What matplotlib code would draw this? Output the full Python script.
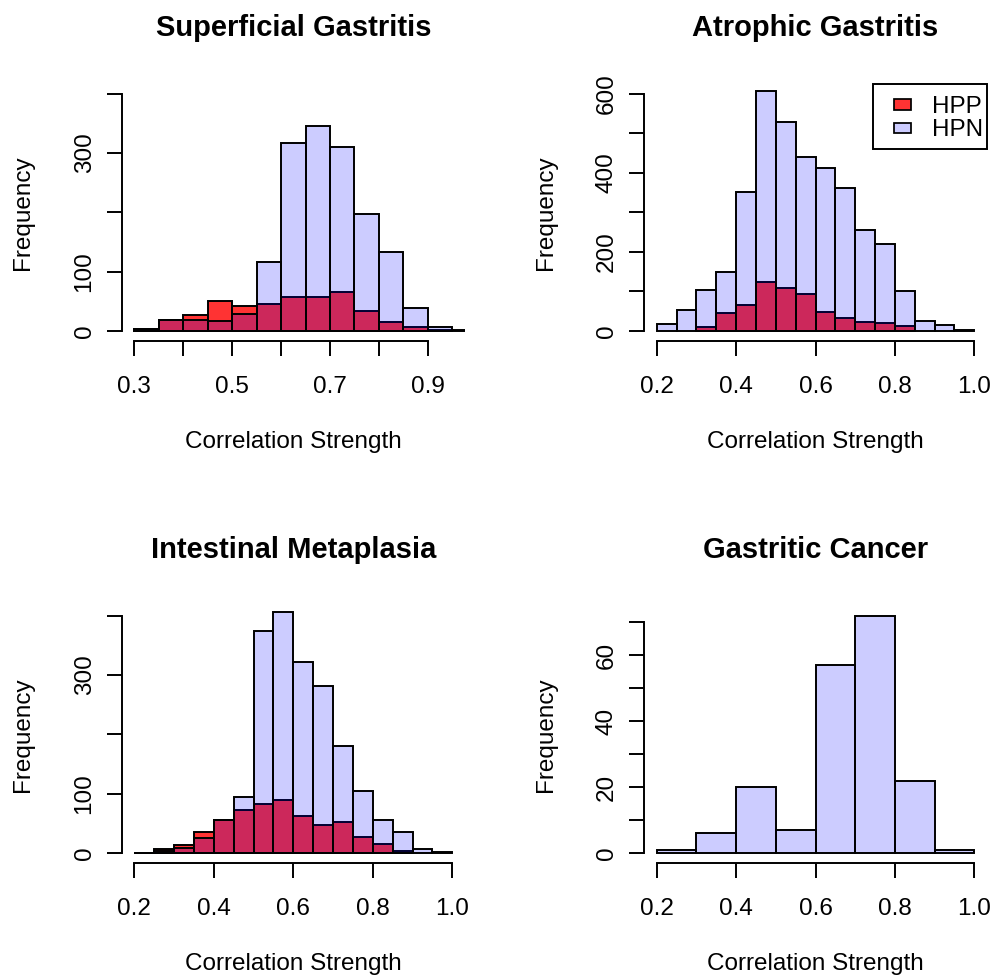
import matplotlib
matplotlib.use('Agg')
import matplotlib.pyplot as plt
from matplotlib.patches import Rectangle
import numpy as np

plt.rcParams['font.family'] = ['Liberation Sans', 'DejaVu Sans']

# ---------------- data ----------------
titles = ["Superficial Gastritis", "Atrophic Gastritis",
          "Intestinal Metaplasia", "Gastritic Cancer"]
series_names = ["HPP", "HPN"]

# Superficial Gastritis (bin width 0.05)
sg_hpp_start, sg_hpn_start = 0.30, 0.30
sg_hpp = [4, 18, 27, 50, 43, 46, 57, 58, 65, 34, 15, 7, 1]
sg_hpn = [4, 18, 19, 17, 28, 116, 317, 345, 310, 198, 133, 39, 6, 1]

# Atrophic Gastritis (bin width 0.05)
ag_hpp_start, ag_hpn_start = 0.30, 0.20
ag_hpp = [9, 46, 67, 124, 109, 94, 49, 32, 23, 21, 12]
ag_hpn = [17, 54, 104, 148, 351, 607, 528, 441, 413, 362, 255, 220, 101, 25, 16, 3]

# Intestinal Metaplasia (bin width 0.05)
im_hpp_start, im_hpn_start = 0.20, 0.20
im_hpp = [0, 7, 13, 35, 56, 72, 83, 89, 62, 48, 53, 27, 16, 3]
im_hpn = [0, 3, 8, 25, 55, 95, 375, 407, 322, 281, 180, 105, 56, 35, 6, 1]

# Gastritic Cancer (bin width 0.1), HPN only
gc_hpn_start = 0.20
gc_hpn = [1, 6, 20, 7, 57, 72, 22, 1]

bin_widths = [0.05, 0.05, 0.05, 0.1]
xlims = [(0.30, 0.95), (0.20, 1.00), (0.20, 1.00), (0.20, 1.00)]
ylims = [(0, 400), (0, 600), (0, 400), (0, 72)]
xticks = [[0.3, 0.4, 0.5, 0.6, 0.7, 0.8, 0.9],
          [0.2, 0.4, 0.6, 0.8, 1.0], [0.2, 0.4, 0.6, 0.8, 1.0],
          [0.2, 0.4, 0.6, 0.8, 1.0]]
xticklabels = [["0.3", "", "0.5", "", "0.7", "", "0.9"],
               ["0.2", "0.4", "0.6", "0.8", "1.0"],
               ["0.2", "0.4", "0.6", "0.8", "1.0"],
               ["0.2", "0.4", "0.6", "0.8", "1.0"]]
yticks = [[0, 100, 200, 300, 400], [0, 100, 200, 300, 400, 500, 600],
          [0, 100, 200, 300, 400], [0, 10, 20, 30, 40, 50, 60, 70]]
yticklabels = [["0", "100", "", "300", ""],
               ["0", "", "200", "", "400", "", "600"],
               ["0", "100", "", "300", ""],
               ["0", "", "20", "", "40", "", "60", ""]]

panels = [
    ((sg_hpp_start, sg_hpp), (sg_hpn_start, sg_hpn)),
    ((ag_hpp_start, ag_hpp), (ag_hpn_start, ag_hpn)),
    ((im_hpp_start, im_hpp), (im_hpn_start, im_hpn)),
    (None, (gc_hpn_start, gc_hpn)),
]

# ---------------- style ----------------
W, H, DPI = 993, 977, 100
col_hpp = (1, 0, 0, 0.8)
col_hpn = (0, 0, 1, 0.2)
LW = 1.4
FS = 17.5
FS_TITLE = 21

fig = plt.figure(figsize=(W / DPI, H / DPI), dpi=DPI)
fig.patch.set_facecolor('white')

def fx(px):
    return px / W

def fy(py):
    return 1 - py / H

# plot regions in pixels (left, top, right, bottom)
boxes = [(121.7, 84.3, 465.0, 340.5), (644.0, 84.3, 987.0, 340.5),
         (121.7, 606.3, 465.0, 862.5), (644.0, 606.3, 987.0, 862.5)]

for i, (l, t, r, b) in enumerate(boxes):
    ax = fig.add_axes([fx(l), fy(b), (r - l) / W, (b - t) / H])
    ax.set_facecolor('none')
    bw = bin_widths[i]
    hpp, hpn = panels[i]
    for spec, col in ((hpp, col_hpp), (hpn, col_hpn)):
        if spec is None:
            continue
        start, counts = spec
        lefts = start + bw * np.arange(len(counts))
        ax.bar(lefts, counts, width=bw, align='edge', color=col,
               edgecolor='black', linewidth=LW)
    x0, x1 = xlims[i]
    dx = 0.04 * (x1 - x0)
    ax.set_xlim(x0 - dx, x1 + dx)
    y0, y1 = ylims[i]
    dy = 0.04 * (y1 - y0)
    ax.set_ylim(y0 - dy, y1 + dy)
    for s in ('top', 'right'):
        ax.spines[s].set_visible(False)
    for s in ('left', 'bottom'):
        ax.spines[s].set_linewidth(LW)
    ax.spines['left'].set_bounds(yticks[i][0], yticks[i][-1])
    ax.spines['bottom'].set_bounds(xticks[i][0], xticks[i][-1])
    ax.set_xticks(xticks[i])
    ax.set_xticklabels(xticklabels[i])
    ax.set_yticks(yticks[i])
    ax.set_yticklabels(yticklabels[i], rotation=90, va='center')
    ax.tick_params(axis='both', direction='out', length=10.8, width=LW,
                   labelsize=FS)
    ax.tick_params(axis='x', pad=15.0)
    ax.tick_params(axis='y', pad=8.0)

    cx = (l + r) / 2
    cy = (t + b) / 2
    fig.text(fx(cx), fy(t - 48.3), titles[i], ha='center', va='baseline',
             fontsize=FS_TITLE, fontweight='bold')
    fig.text(fx(cx), fy(b + 107.5), "Correlation Strength", ha='center',
             va='baseline', fontsize=FS)
    fig.text(fx(l - 92.4), fy(cy), "Frequency", rotation=90,
             rotation_mode='anchor', ha='center', va='baseline', fontsize=FS)

    if i == 1:
        # legend in the top-right corner of the plot region
        lx0, ly0, lx1, ly1 = 873.3, 84.3, 987.0, 149.3
        fig.patches.append(Rectangle((fx(lx0), fy(ly1)), (lx1 - lx0) / W,
                                     (ly1 - ly0) / H, transform=fig.transFigure,
                                     facecolor='white', edgecolor='black',
                                     linewidth=LW, zorder=5))
        for k, (name, col) in enumerate(zip(series_names, (col_hpp, col_hpn))):
            center = 104.5 + 23.5 * k
            fig.patches.append(Rectangle((fx(894.3), fy(center + 5)), 16.7 / W,
                                         10 / H, transform=fig.transFigure,
                                         facecolor=col, edgecolor='black',
                                         linewidth=LW * 0.9, zorder=6))
            fig.text(fx(931.7), fy(center + 8.5), name, ha='left',
                     va='baseline', fontsize=FS, zorder=7)

fig.savefig('out.png', dpi=DPI)
